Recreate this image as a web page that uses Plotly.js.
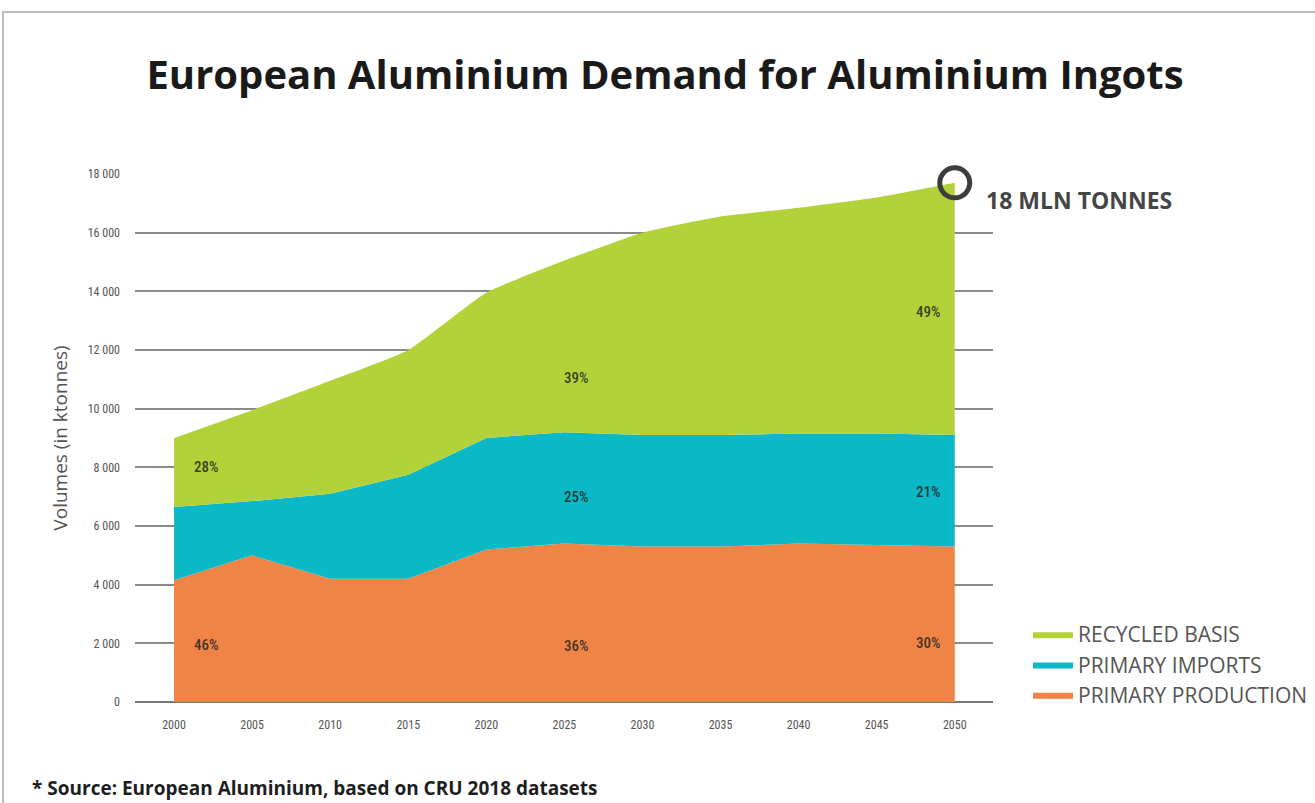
<!DOCTYPE html>
<html>
<head>
<meta charset="utf-8">
<script src="https://cdn.plot.ly/plotly-3.0.1.min.js"></script>
<style>
html,body{margin:0;padding:0;background:#fff;}
#chart{width:1315px;height:803px;}
</style>
</head>
<body>
<div id="chart"></div>
<script>
// ---- data ----
const years = [2000, 2005, 2010, 2015, 2020, 2025, 2030, 2035, 2040, 2045, 2050];
const primaryProduction = [4150, 5000, 4200, 4200, 5200, 5400, 5300, 5300, 5400, 5350, 5300];
const primaryImports   = [2500, 1850, 2900, 3550, 3800, 3800, 3800, 3800, 3750, 3800, 3800];
const recycledBasis    = [2350, 3100, 3850, 4250, 4950, 5850, 6900, 7450, 7700, 8050, 8600];
const seriesNames = ["PRIMARY PRODUCTION", "PRIMARY IMPORTS", "RECYCLED BASIS"];
const seriesColors = ["#f08447", "#0bb8c5", "#b3d239"];

const pctYears  = [2002.1, 2002.1, 2025.8, 2025.8, 2025.8, 2048.3, 2048.3, 2048.3];
const pctValues = [8000, 1950, 11050, 7000, 1900, 13300, 7150, 2000];
const pctTexts  = ["28%", "46%", "39%", "25%", "36%", "49%", "21%", "30%"];

const yTicks = [0, 2000, 4000, 6000, 8000, 10000, 12000, 14000, 16000, 18000];

const totals2050 = primaryProduction[10] + primaryImports[10] + recycledBasis[10];

const traces = [
  {x: years, y: primaryProduction, name: seriesNames[0], type: "scatter", mode: "lines",
   stackgroup: "one", line: {width: 0, color: seriesColors[0]}, fillcolor: seriesColors[0]},
  {x: years, y: primaryImports, name: seriesNames[1], type: "scatter", mode: "lines",
   stackgroup: "one", line: {width: 0, color: seriesColors[1]}, fillcolor: seriesColors[1]},
  {x: years, y: recycledBasis, name: seriesNames[2], type: "scatter", mode: "lines",
   stackgroup: "one", line: {width: 0, color: seriesColors[2], shape: "spline", smoothing: 0.5}, fillcolor: seriesColors[2]},
  {x: [years[10]], y: [totals2050], type: "scatter", mode: "markers", showlegend: false,
   cliponaxis: false, hoverinfo: "skip",
   marker: {symbol: "circle-open", size: 30, color: "#3d3d3d", line: {width: 5, color: "#3d3d3d"}}}
];

const annotations = pctTexts.map((t, i) => ({
  x: pctYears[i], y: pctValues[i], xref: "x", yref: "y", text: t, showarrow: false,
  font: {family: "Roboto Condensed, Roboto, sans-serif", size: 15, weight: 500, color: "rgba(35,35,35,0.85)"}
}));
annotations.push({
  x: 2051.9, y: 17100, xref: "x", yref: "y", text: "<b>18 MLN TONNES</b>", showarrow: false,
  xanchor: "left", yanchor: "middle",
  font: {family: "Open Sans, sans-serif", size: 23, color: "#454545"}
});
annotations.push({
  x: (30 - 135) / 858, y: (702 - 788) / 528, xref: "paper", yref: "paper",
  text: "<b>* Source: European Aluminium, based on CRU 2018 datasets</b>",
  showarrow: false, xanchor: "left", yanchor: "middle",
  font: {family: "Open Sans, sans-serif", size: 19, color: "#1e1e1e"}
});

const tickFont = {family: "Roboto Condensed, Roboto, sans-serif", size: 12, color: "#555"};

const layout = {
  width: 1315, height: 803,
  margin: {l: 135, r: 322, t: 174, b: 101, autoexpand: false},
  paper_bgcolor: "#ffffff", plot_bgcolor: "#ffffff",
  title: {
    text: "<b>European Aluminium Demand for Aluminium Ingots</b>",
    x: 665 / 1315, xref: "container", xanchor: "center",
    y: 1 - 75 / 803, yref: "container", yanchor: "middle",
    font: {family: "Open Sans, sans-serif", size: 40, color: "#1a1a1a"}
  },
  xaxis: {
    range: [1997.5, 2052.45], tickvals: years, ticktext: years.map(String),
    showgrid: false, zeroline: false, showline: false, ticks: "",
    ticklabelstandoff: 14, tickfont: tickFont
  },
  yaxis: {
    range: [0, 18000], tickvals: yTicks, separatethousands: true,
    exponentformat: "none", tickformat: ",d",
    showgrid: true, gridcolor: "#8a8a8a", gridwidth: 1.8, zeroline: true, zerolinecolor: "#777", zerolinewidth: 2.2,
    showline: false, ticks: "", ticklabelstandoff: 14, layer: "below traces",
    tickfont: tickFont,
    title: {text: "Volumes (in ktonnes)", standoff: 14,
            font: {family: "Open Sans, sans-serif", size: 19, color: "#555"}}
  },
  separators: ". ",
  showlegend: true,
  legend: {
    x: (1028 - 135) / 858, xanchor: "left", y: (702 - 614) / 528, yanchor: "top",
    traceorder: "reversed", bgcolor: "rgba(0,0,0,0)",
    font: {family: "Open Sans, sans-serif", size: 21, color: "#555"},
    itemwidth: 40, tracegroupgap: 0
  },
  annotations: annotations,
  shapes: [
    {type: "rect", xref: "paper", yref: "paper",
     x0: (3 - 135) / 858, x1: 1.5, y0: -0.5, y1: (702 - 12) / 528,
     line: {color: "#bdbdbd", width: 2}, fillcolor: "rgba(0,0,0,0)", layer: "below"}
  ]
};

Plotly.newPlot("chart", traces, layout, {displayModeBar: false, staticPlot: true});
</script>
</body>
</html>
